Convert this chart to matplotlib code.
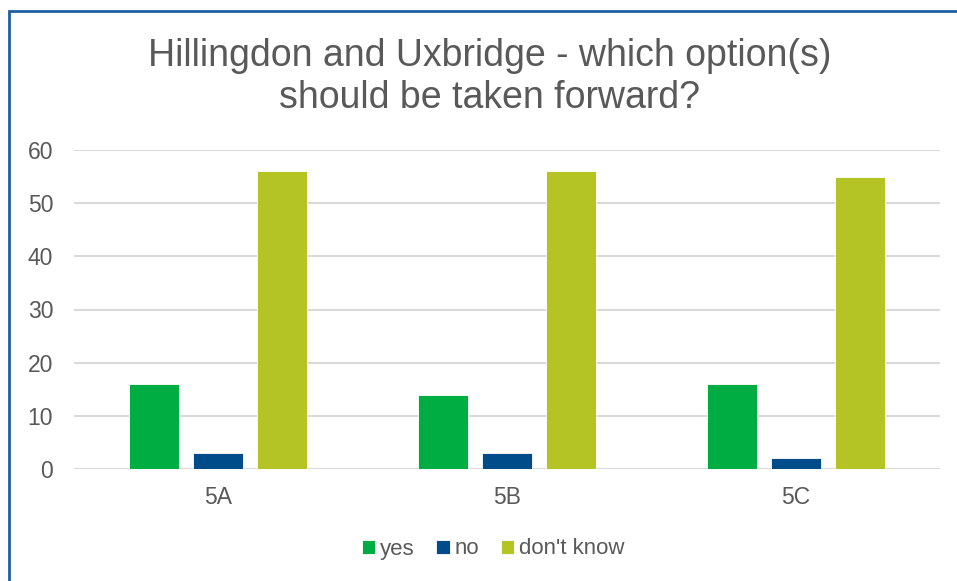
import numpy as np
import matplotlib
matplotlib.use('Agg')
import matplotlib.pyplot as plt
from matplotlib.patches import Rectangle

plt.rcParams['font.family'] = ['Liberation Sans', 'DejaVu Sans']

categories = ['5A', '5B', '5C']
yes = [16, 14, 16]
no = [3, 3, 2]
dont_know = [56, 56, 55]
series_names = ['yes', 'no', "don't know"]
colors = ['#00AD43', '#004C8A', '#B4C424']

W, H = 957, 581
fig = plt.figure(figsize=(W / 100, H / 100), dpi=100)
ax = fig.add_axes([74 / W, 1 - 469 / H, (940 - 74) / W, (469 - 150) / H])

x = np.arange(len(categories))
step = 64 / 289
width = 50 / 289
for i, (vals, name, c) in enumerate(zip([yes, no, dont_know], series_names, colors)):
    ax.bar(x + (i - 1) * step, vals, width, color=c, label=name,
           edgecolor='white', linewidth=0.6, zorder=3)

ax.set_xlim(-0.5, 2.5)
ax.set_ylim(0, 60)
ax.set_yticks(range(0, 61, 10))
ax.set_xticks(x)
ax.set_xticklabels(categories)
ax.grid(axis='y', color='#D9D9D9', linewidth=1.5, zorder=0)
for s in ax.spines.values():
    s.set_visible(False)
ax.tick_params(length=0, labelsize=16.5, colors='#595959')
ax.tick_params(axis='y', pad=15)
ax.tick_params(axis='x', pad=12)

fig.text(490 / W, 1 - 77 / H, "Hillingdon and Uxbridge - which option(s)\nshould be taken forward?",
         ha='center', va='center', fontsize=27, color='#595959', linespacing=1.2)

fig.legend(loc='center', bbox_to_anchor=(493 / W, 1 - 549 / H), ncol=3, frameon=False,
           fontsize=16, labelcolor='#595959', handlelength=0.6, handleheight=0.6,
           handletextpad=0.2, columnspacing=1.0)

# border of the chart area (only top/left visible)
fig.patches.append(Rectangle((9 / W, -0.1), 1.2, 1 - 11 / H + 0.1, transform=fig.transFigure,
                             fill=False, edgecolor='#1F5F9F', linewidth=2))

fig.savefig('out.png', dpi=100)
